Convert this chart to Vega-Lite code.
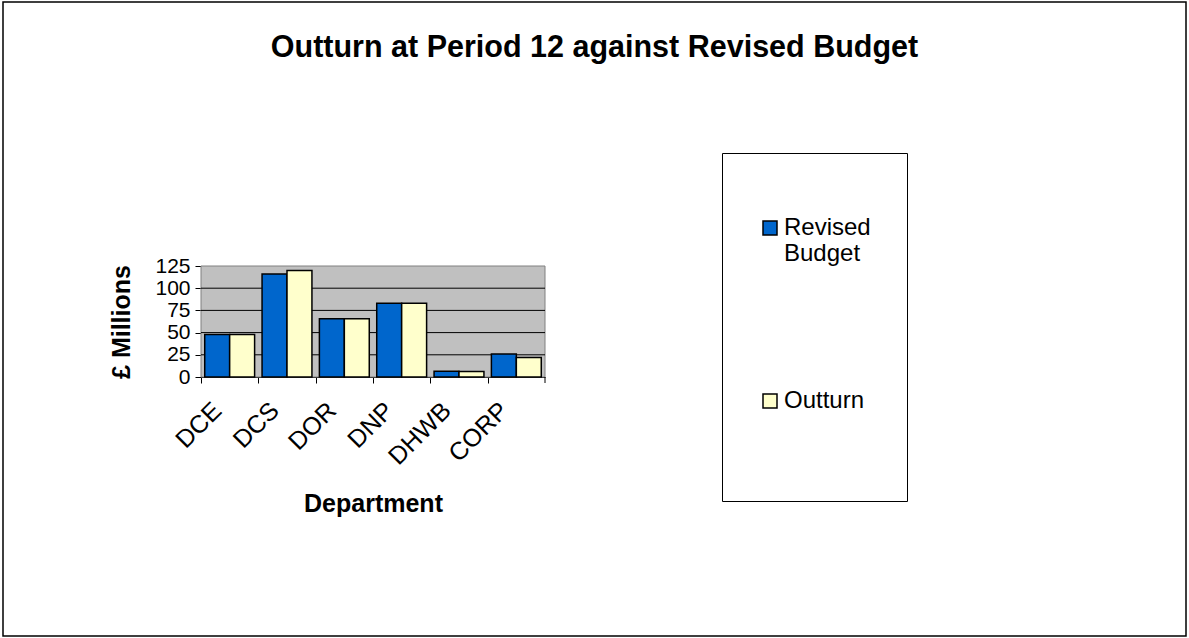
{
  "$schema": "https://vega.github.io/schema/vega-lite/v6.json",
  "width": 1183,
  "height": 634,
  "autosize": "none",
  "padding": {"left": 3, "top": 2, "right": 3, "bottom": 2},
  "background": "white",
  "config": {
    "font": "Liberation Sans",
    "view": {"stroke": "#000000", "strokeWidth": 1.5},
    "legend": {
      "orient": "none",
      "legendX": 719,
      "legendY": 151,
      "strokeColor": "#000000",
      "fillColor": "#ffffff",
      "padding": 36,
      "labelFont": "Liberation Sans",
      "labelFontSize": 24,
      "labelColor": "#000000",
      "labelOffset": 2,
      "labelLimit": 300,
      "symbolType": "square",
      "symbolSize": 196,
      "symbolStrokeColor": "#000000",
      "symbolStrokeWidth": 1.5,
      "rowPadding": 123,
      "titleFontSize": 12,
      "titlePadding": 15
    }
  },
  "title": {
    "text": "Outturn at Period 12 against Revised Budget",
    "font": "Liberation Sans",
    "fontSize": 30.5,
    "fontWeight": "bold",
    "color": "#000000",
    "anchor": "middle",
    "frame": "group",
    "baseline": "alphabetic",
    "offset": 0,
    "dy": 85
  },
  "resolve": {"scale": {"x": "independent"}},
  "layer": [
    {
      "data": {"values": [{"a": 0, "b": 1, "lo": 0, "hi": 125}]},
      "mark": {"type": "rect", "fill": "#C0C0C0", "stroke": "#808080", "strokeWidth": 1},
      "encoding": {
        "x": {"field": "a", "type": "quantitative", "scale": {"domain": [0, 1], "range": [198, 542]}, "axis": null},
        "x2": {"field": "b"},
        "y": {
          "field": "lo",
          "type": "quantitative",
          "scale": {"domain": [0, 125], "range": [375, 264], "nice": false, "zero": true},
          "axis": {
            "title": "£ Millions",
            "titleFont": "Liberation Sans",
            "titleFontSize": 25,
            "titleFontWeight": "bold",
            "titleColor": "#000000",
            "titlePadding": 20,
            "offset": -198,
            "values": [0, 25, 50, 75, 100, 125],
            "labelFont": "Liberation Sans",
            "labelFontSize": 21,
            "labelColor": "#000000",
            "labelPadding": 5,
            "labelOverlap": false,
            "labelBaseline": "middle",
            "tickSize": 6,
            "tickColor": "#000000",
            "domainColor": "#000000",
            "grid": false
          }
        },
        "y2": {"field": "hi"}
      }
    },
    {
      "data": {"values": [{"v": 25}, {"v": 50}, {"v": 75}, {"v": 100}]},
      "mark": {"type": "rule", "color": "#000000", "strokeWidth": 1},
      "encoding": {
        "x": {"datum": 0, "type": "quantitative", "scale": {"domain": [0, 1], "range": [198, 542]}, "axis": null},
        "x2": {"datum": 1},
        "y": {
          "field": "v",
          "type": "quantitative",
          "axis": {
            "title": "£ Millions",
            "titleFont": "Liberation Sans",
            "titleFontSize": 25,
            "titleFontWeight": "bold",
            "titleColor": "#000000",
            "titlePadding": 20,
            "offset": -198,
            "values": [0, 25, 50, 75, 100, 125],
            "labelFont": "Liberation Sans",
            "labelFontSize": 21,
            "labelColor": "#000000",
            "labelPadding": 5,
            "labelOverlap": false,
            "labelBaseline": "middle",
            "tickSize": 6,
            "tickColor": "#000000",
            "domainColor": "#000000",
            "grid": false
          }
        }
      }
    },
    {
      "data": {"values": [{"edge": 1, "base": 0}]},
      "mark": {"type": "tick", "orient": "vertical", "color": "#000000", "thickness": 1, "size": 6, "yOffset": 3, "opacity": 1},
      "encoding": {
        "x": {"field": "edge", "type": "quantitative", "scale": {"domain": [0, 1], "range": [198, 542]}, "axis": null},
        "y": {
          "field": "base",
          "type": "quantitative",
          "axis": {
            "title": "£ Millions",
            "titleFont": "Liberation Sans",
            "titleFontSize": 25,
            "titleFontWeight": "bold",
            "titleColor": "#000000",
            "titlePadding": 20,
            "offset": -198,
            "values": [0, 25, 50, 75, 100, 125],
            "labelFont": "Liberation Sans",
            "labelFontSize": 21,
            "labelColor": "#000000",
            "labelPadding": 5,
            "labelOverlap": false,
            "labelBaseline": "middle",
            "tickSize": 6,
            "tickColor": "#000000",
            "domainColor": "#000000",
            "grid": false
          }
        }
      }
    },
    {
      "data": {
        "values": [
          {"dept": "DCE", "series": "Revised Budget", "value": 48},
          {"dept": "DCE", "series": "Outturn", "value": 48},
          {"dept": "DCS", "series": "Revised Budget", "value": 116},
          {"dept": "DCS", "series": "Outturn", "value": 120},
          {"dept": "DOR", "series": "Revised Budget", "value": 65.5},
          {"dept": "DOR", "series": "Outturn", "value": 65.5},
          {"dept": "DNP", "series": "Revised Budget", "value": 83},
          {"dept": "DNP", "series": "Outturn", "value": 83},
          {"dept": "DHWB", "series": "Revised Budget", "value": 6.5},
          {"dept": "DHWB", "series": "Outturn", "value": 6.3},
          {"dept": "CORP", "series": "Revised Budget", "value": 26},
          {"dept": "CORP", "series": "Outturn", "value": 22}
        ]
      },
      "mark": {"type": "bar", "stroke": "#000000", "strokeWidth": 1.5},
      "encoding": {
        "x": {
          "field": "dept",
          "type": "nominal",
          "sort": ["DCE", "DCS", "DOR", "DNP", "DHWB", "CORP"],
          "scale": {"range": [198, 542], "paddingInner": 0.13, "paddingOuter": 0.065},
          "axis": {
            "title": "Department",
            "titleFont": "Liberation Sans",
            "titleFontSize": 25,
            "titleFontWeight": "bold",
            "titleColor": "#000000",
            "titlePadding": 22,
            "offset": -259,
            "labelAngle": -45,
            "labelAlign": "right",
            "labelBaseline": "middle",
            "labelFont": "Liberation Sans",
            "labelFontSize": 25,
            "labelColor": "#000000",
            "labelPadding": 23,
            "tickOffset": -28.67,
            "labelOffset": 16,
            "tickSize": 6,
            "tickColor": "#000000",
            "domainColor": "#000000",
            "grid": false,
            "labelOverlap": false
          }
        },
        "xOffset": {"field": "series", "type": "nominal", "sort": ["Revised Budget", "Outturn"]},
        "y": {
          "field": "value",
          "type": "quantitative",
          "axis": {
            "title": "£ Millions",
            "titleFont": "Liberation Sans",
            "titleFontSize": 25,
            "titleFontWeight": "bold",
            "titleColor": "#000000",
            "titlePadding": 20,
            "offset": -198,
            "values": [0, 25, 50, 75, 100, 125],
            "labelFont": "Liberation Sans",
            "labelFontSize": 21,
            "labelColor": "#000000",
            "labelPadding": 5,
            "labelOverlap": false,
            "labelBaseline": "middle",
            "tickSize": 6,
            "tickColor": "#000000",
            "domainColor": "#000000",
            "grid": false
          }
        },
        "color": {
          "field": "series",
          "type": "nominal",
          "sort": ["Revised Budget", "Outturn"],
          "scale": {"domain": ["Revised Budget", "Outturn"], "range": ["#0066CC", "#FFFFCC"]},
          "legend": {
            "title": " ",
            "labelExpr": "datum.label == 'Revised Budget' ? ['Revised', 'Budget'] : ['Outturn', '', '']"
          }
        }
      }
    }
  ]
}
